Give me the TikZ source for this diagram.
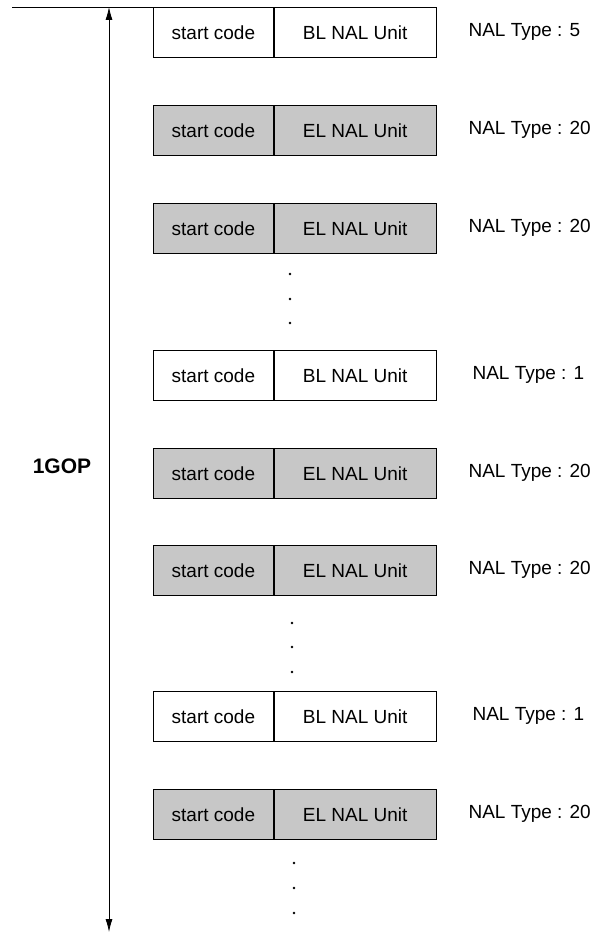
\documentclass[tikz,border=0pt]{standalone}
\usepackage{fontspec}
\setmainfont{Liberation Sans}
\usepackage{tikz}
\usetikzlibrary{positioning,arrows.meta}

\begin{document}
\begin{tikzpicture}[x=1pt,y=-1pt,>={Latex[length=13pt,width=7pt]},
  font=\fontsize{19}{21}\selectfont,
  cell/.style={draw,thick,minimum height=50pt,inner sep=0pt,anchor=north west},
  sc/.style={cell,minimum width=120pt},
  unit/.style={cell,minimum width=162pt},
  bl/.style={fill=white},
  el/.style={fill=black!22},
  nal/.style={anchor=west},
  dot/.style={circle,fill,inner sep=0pt,minimum size=2.6pt}]
\useasboundingbox (0,0) rectangle (603,933);
% rows of the GOP
\node[sc,bl] (sc1) at (153,7) {start code};
\node[unit,bl,right=0pt of sc1] (u1) {BL NAL Unit};
\node[nal] (t1) at (465,32) {NAL Type : 5};
\node[sc,el] (sc2) at (153,105) {start code};
\node[unit,el,right=0pt of sc2] (u2) {EL NAL Unit};
\node[nal] (t2) at (465,130) {NAL Type : 20};
\node[sc,el] (sc3) at (153,203) {start code};
\node[unit,el,right=0pt of sc3] (u3) {EL NAL Unit};
\node[nal] (t3) at (465,228) {NAL Type : 20};
\node[dot] (da1) at (290,274) {};
\node[dot] (da2) at (290,299) {};
\node[dot] (da3) at (290,323) {};
\node[sc,bl] (sc4) at (153,350) {start code};
\node[unit,bl,right=0pt of sc4] (u4) {BL NAL Unit};
\node[nal] (t4) at (469,375) {NAL Type : 1};
\node[sc,el] (sc5) at (153,448) {start code};
\node[unit,el,right=0pt of sc5] (u5) {EL NAL Unit};
\node[nal] (t5) at (465,473) {NAL Type : 20};
\node[sc,el] (sc6) at (153,545) {start code};
\node[unit,el,right=0pt of sc6] (u6) {EL NAL Unit};
\node[nal] (t6) at (465,570) {NAL Type : 20};
\node[dot] (db1) at (292,623) {};
\node[dot] (db2) at (292,647) {};
\node[dot] (db3) at (292,672) {};
\node[sc,bl] (sc7) at (153,691) {start code};
\node[unit,bl,right=0pt of sc7] (u7) {BL NAL Unit};
\node[nal] (t7) at (469,716) {NAL Type : 1};
\node[sc,el] (sc8) at (153,789) {start code};
\node[unit,el,right=0pt of sc8] (u8) {EL NAL Unit};
\node[nal] (t8) at (465,814) {NAL Type : 20};
\node[dot] (dc1) at (294,863) {};
\node[dot] (dc2) at (294,888) {};
\node[dot] (dc3) at (294,913) {};
% GOP span
\coordinate (lstart) at (12,7);
\coordinate (gtop) at (109,7);
\coordinate (gbot) at (109,932);
\draw[thick] (lstart) -- (sc1.north west);
\draw[thick,<->] (gtop) -- (gbot);
\node[font=\fontsize{21}{23}\selectfont\bfseries] (gop) at (62,466) {1GOP};
\end{tikzpicture}
\end{document}
